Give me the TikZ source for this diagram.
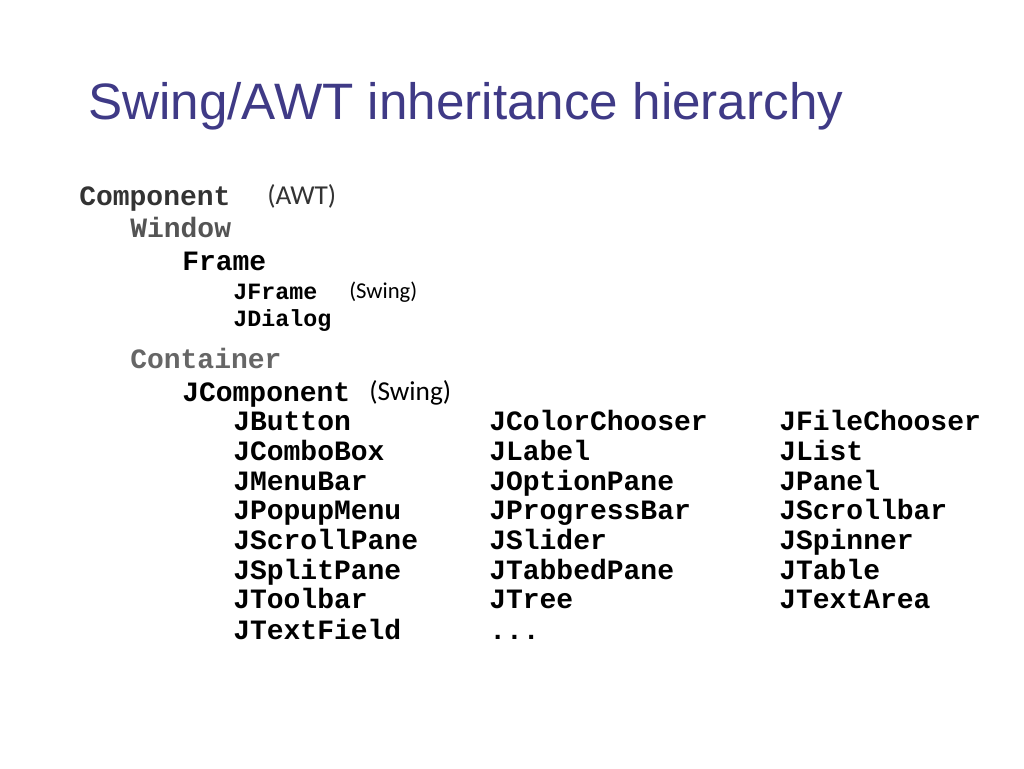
\documentclass[tikz,border=0pt]{standalone}
\usepackage{fontspec}
\setmainfont{Liberation Sans}
\newfontfamily\cod{Liberation Mono}
\newfontfamily\carl{Carlito}
\definecolor{titlec}{HTML}{3F3A86}
\begin{document}
\begin{tikzpicture}[x=0.75pt,y=-0.75pt,
  every node/.style={anchor=base west,inner sep=0pt},
  big/.style={font=\cod\bfseries\fontsize{21}{24}\selectfont},
  small/.style={font=\cod\bfseries\fontsize{17.5}{20}\selectfont},
  par/.style={font=\carl\fontsize{20.5}{24}\selectfont},
  pars/.style={font=\carl\fontsize{17}{20}\selectfont}]
\useasboundingbox (0,0) rectangle (1024,768);
\node[font=\fontsize{38.4}{44}\selectfont,text=titlec] (title) at (88,119) {Swing/AWT inheritance hierarchy};
\node[big,text=black!80] (comp) at (79,205) {Component};
\node[par,text=black!80] (awt) at (267,204) {(AWT)};
\node[big,text=black!67] (win) at (130,237) {Window};
\node[big] (frame) at (182,270) {Frame};
\node[small] (jframe) at (233,299) {JFrame};
\node[pars] (sw1) at (349,298) {(Swing)};
\node[small] (jdialog) at (233,326) {JDialog};
\node[big,text=black!60] (cont) at (130,368) {Container};
\node[big] (jcomp) at (182,401) {JComponent};
\node[par] (sw2) at (369,400) {(Swing)};
\foreach \a/\b/\c [count=\i] in {JButton/JColorChooser/JFileChooser,JComboBox/JLabel/JList,JMenuBar/JOptionPane/JPanel,JPopupMenu/JProgressBar/JScrollbar,JScrollPane/JSlider/JSpinner,JSplitPane/JTabbedPane/JTable,JToolbar/JTree/JTextArea}{
  \node[big] (a\i) at (233,401+29.7*\i) {\a};
  \node[big] (b\i) at (489,401+29.7*\i) {\b};
  \node[big] (c\i) at (779,401+29.7*\i) {\c};
}
\node[big] (a8) at (233,639) {JTextField};
\node[big] (b8) at (489,639) {...};
\end{tikzpicture}
\end{document}
